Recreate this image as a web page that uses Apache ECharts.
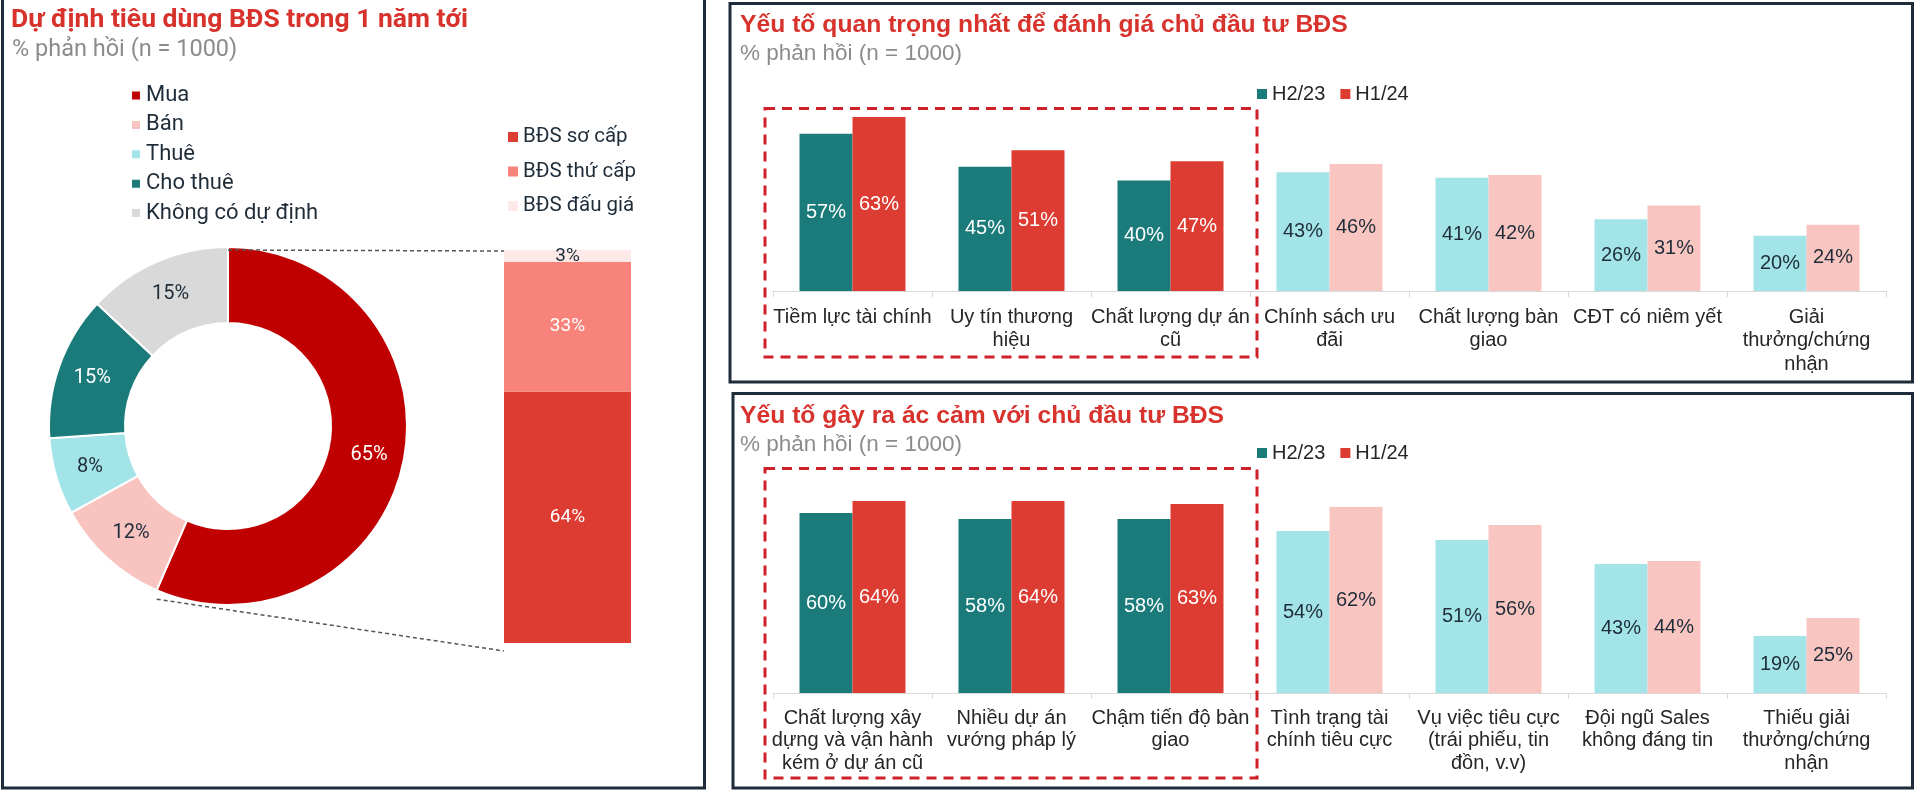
<!DOCTYPE html>
<html><head><meta charset="utf-8">
<script src="https://cdn.jsdelivr.net/npm/echarts@6/dist/echarts.min.js"></script>
<style>html,body{margin:0;padding:0;background:#fff}#c{width:1920px;height:798px}</style>
</head><body><div id="c"></div>
<script>
// ---------- DATA ----------
const pieNames = ['Mua', 'Bán', 'Thuê', 'Cho thuê', 'Không có dự định'];
const pieValues = [65, 12, 8, 15, 15];
const stackNames = ['BĐS sơ cấp', 'BĐS thứ cấp', 'BĐS đấu giá'];
const stackValues = [64, 33, 3];
const seriesNames = ['H2/23', 'H1/24'];
const topCats = ['Tiềm lực tài chính', 'Uy tín thương\nhiệu', 'Chất lượng dự án\ncũ', 'Chính sách ưu\nđãi', 'Chất lượng bàn\ngiao', 'CĐT có niêm yết', 'Giải\nthưởng/chứng\nnhận'];
const topH2 = [57, 45, 40, 43, 41, 26, 20];
const topH1 = [63, 51, 47, 46, 42, 31, 24];
const botCats = ['Chất lượng xây\ndựng và vận hành\nkém ở dự án cũ', 'Nhiều dự án\nvướng pháp lý', 'Chậm tiến độ bàn\ngiao', 'Tình trạng tài\nchính tiêu cực', 'Vụ việc tiêu cực\n(trái phiếu, tin\nđồn, v.v)', 'Đội ngũ Sales\nkhông đáng tin', 'Thiếu giải\nthưởng/chứng\nnhận'];
const botH2 = [60, 58, 58, 54, 51, 43, 19];
const botH1 = [64, 64, 63, 62, 56, 44, 25];
const HIGHLIGHT_N = 3;

// ---------- STYLE ----------
const RED_TITLE = '#D7322C';
const GRAY_SUB = '#8C8C8C';
const DARK_TXT = '#1F2D3A';
const BORDER = '#1D2B3B';
const pieColors = ['#C00000', '#F9C4C0', '#A3E4E8', '#1B7B7B', '#D9D9D9'];
const pieLabelColors = ['#fff', DARK_TXT, DARK_TXT, '#fff', DARK_TXT];
const stackColors = ['#DD3C33', '#F8837A', '#FDE9E8'];
const stackLabelColors = ['#fff', '#fff', DARK_TXT];
const DARK = ['#1B7B7B', '#DD3C33'];
const LIGHT = ['#A3E4E8', '#F9C5C1'];
const LEFT_FONT = 'Roboto, "Noto Sans", sans-serif';
const RIGHT_FONT = '"Liberation Sans", Arial, sans-serif';

const PIE_CENTER = [228, 426];
const PIE_R = [103, 179];
const STACK_GRID = {left: 504, top: 250, width: 127, height: 393};
const TOP_GRID = {left: 773, top: 15, width: 1113, height: 276};
const BOT_GRID = {left: 773, top: 393, width: 1113, height: 300};

const chart = echarts.init(document.getElementById('c'), null, {renderer: 'canvas'});

function titleItem(text, left, top, size, bold, color, font, lh) {
  return {text, left, top, padding: 0,
    textStyle: {fontSize: size, fontWeight: bold ? 'bold' : 'normal', color, fontFamily: font, lineHeight: lh}};
}
function barData(vals, si) {
  return vals.map((v, i) => ({
    value: v,
    itemStyle: {color: i < HIGHLIGHT_N ? DARK[si] : LIGHT[si]},
    label: {color: i < HIGHLIGHT_N ? '#fff' : DARK_TXT}
  }));
}
function catAxis(gridIndex, cats, margin, lh) {
  return {type: 'category', gridIndex, data: cats,
    axisLine: {show: true, lineStyle: {color: '#D9D9D9', width: 1}},
    axisTick: {show: true, alignWithLabel: false, length: 6, lineStyle: {color: '#D9D9D9'}},
    axisLabel: {interval: 0, margin, fontSize: 20, lineHeight: lh, color: '#262626', fontFamily: RIGHT_FONT}};
}
function valAxis(gridIndex) {
  return {type: 'value', gridIndex, min: 0, max: 100, show: false};
}
const barLabel = {show: true, position: 'inside', formatter: '{c}%', fontSize: 20, fontFamily: RIGHT_FONT};

const option = {
  animation: false,
  backgroundColor: '#fff',
  title: [
    titleItem('Dự định tiêu dùng BĐS trong 1 năm tới', 11, 4, 26.5, true, RED_TITLE, LEFT_FONT, 32),
    titleItem('% phản hồi (n = 1000)', 12, 37, 23.5, false, GRAY_SUB, LEFT_FONT, 26),
    titleItem('Yếu tố quan trọng nhất để đánh giá chủ đầu tư BĐS', 740, 10, 24.7, true, RED_TITLE, RIGHT_FONT, 30),
    titleItem('% phản hồi (n = 1000)', 740, 41, 22.5, false, GRAY_SUB, RIGHT_FONT, 26),
    titleItem('Yếu tố gây ra ác cảm với chủ đầu tư BĐS', 740, 401, 24.7, true, RED_TITLE, RIGHT_FONT, 30),
    titleItem('% phản hồi (n = 1000)', 740, 432, 22.5, false, GRAY_SUB, RIGHT_FONT, 26)
  ],
  legend: [
    {data: pieNames, orient: 'vertical', left: 125, top: 79.5, itemWidth: 10, itemHeight: 10, itemGap: 7.4,
      icon: 'rect', selectedMode: false,
      textStyle: {fontSize: 22, lineHeight: 22, color: DARK_TXT, fontFamily: LEFT_FONT}},
    {data: stackNames, orient: 'vertical', left: 503, top: 121.5, itemWidth: 10, itemHeight: 10, itemGap: 13.5,
      icon: 'rect', selectedMode: false,
      textStyle: {fontSize: 20.5, lineHeight: 20.5, color: DARK_TXT, fontFamily: LEFT_FONT}},
    {data: seriesNames, orient: 'horizontal', left: 1252, top: 78, itemWidth: 10, itemHeight: 10, itemGap: 15,
      icon: 'rect', selectedMode: false,
      textStyle: {fontSize: 20, lineHeight: 22, color: '#262626', fontFamily: RIGHT_FONT}},
    {data: seriesNames, orient: 'horizontal', left: 1252, top: 437, itemWidth: 10, itemHeight: 10, itemGap: 15,
      icon: 'rect', selectedMode: false,
      textStyle: {fontSize: 20, lineHeight: 22, color: '#262626', fontFamily: RIGHT_FONT}}
  ],
  grid: [
    Object.assign({outerBoundsMode: 'none', containLabel: false}, STACK_GRID),
    Object.assign({outerBoundsMode: 'none', containLabel: false}, TOP_GRID),
    Object.assign({outerBoundsMode: 'none', containLabel: false}, BOT_GRID)
  ],
  xAxis: [
    {type: 'category', gridIndex: 0, data: [''], show: false},
    catAxis(1, topCats, 14.5, 23.5),
    catAxis(2, botCats, 14, 22.5)
  ],
  yAxis: [valAxis(0), valAxis(1), valAxis(2)],
  series: [
    {type: 'pie', name: 'pie', center: PIE_CENTER, radius: PIE_R, startAngle: 90, clockwise: true,
      avoidLabelOverlap: false,
      itemStyle: {borderColor: '#fff', borderWidth: 2},
      label: {show: true, position: 'inside', formatter: '{c}%', fontSize: 20, fontFamily: LEFT_FONT},
      labelLine: {show: false},
      emphasis: {disabled: true},
      data: pieNames.map((n, i) => ({name: n, value: pieValues[i],
        itemStyle: {color: pieColors[i]}, label: {color: pieLabelColors[i]}}))},
    ...stackNames.map((n, i) => ({
      type: 'bar', name: n, xAxisIndex: 0, yAxisIndex: 0, stack: 'mua', barWidth: '100%',
      itemStyle: {color: stackColors[i]},
      label: {show: true, position: 'inside', formatter: '{c}%', fontSize: 19, fontFamily: LEFT_FONT, color: stackLabelColors[i]},
      data: [stackValues[i]]
    })),
    {type: 'bar', name: seriesNames[0], xAxisIndex: 1, yAxisIndex: 1, barWidth: 53, barGap: '0%',
      itemStyle: {color: DARK[0]}, label: barLabel, data: barData(topH2, 0)},
    {type: 'bar', name: seriesNames[1], xAxisIndex: 1, yAxisIndex: 1, barWidth: 53, barGap: '0%',
      itemStyle: {color: DARK[1]}, label: barLabel, data: barData(topH1, 1)},
    {type: 'bar', name: seriesNames[0], xAxisIndex: 2, yAxisIndex: 2, barWidth: 53, barGap: '0%',
      itemStyle: {color: DARK[0]}, label: barLabel, data: barData(botH2, 0)},
    {type: 'bar', name: seriesNames[1], xAxisIndex: 2, yAxisIndex: 2, barWidth: 53, barGap: '0%',
      itemStyle: {color: DARK[1]}, label: barLabel, data: barData(botH1, 1)}
  ]
};
chart.setOption(option);

// ---------- decorations computed from layout / axes ----------
const g = [];
function panel(x, y, w, h) {
  g.push({type: 'rect', silent: true, z: 100, shape: {x, y, width: w, height: h},
    style: {fill: 'none', stroke: BORDER, lineWidth: 3}});
}
panel(2.5, -10, 702, 798);
panel(730, 3.5, 1182.5, 378.5);
panel(733, 393.5, 1179.5, 394.5);

// connector lines pie -> stacked bar
const sum = pieValues.reduce((a, b) => a + b, 0);
const ang = pieValues[0] / sum * 2 * Math.PI;
const R = PIE_R[1];
const yTop = chart.convertToPixel({yAxisIndex: 0}, 100);
const yBot = chart.convertToPixel({yAxisIndex: 0}, 0);
const dashStyle = {stroke: '#555', lineWidth: 1.5, lineDash: [4, 3]};
g.push({type: 'line', silent: true, z: 50,
  shape: {x1: PIE_CENTER[0], y1: PIE_CENTER[1] - R + 3, x2: STACK_GRID.left, y2: yTop + 1}, style: dashStyle});
g.push({type: 'line', silent: true, z: 50,
  shape: {x1: PIE_CENTER[0] + R * Math.sin(ang), y1: PIE_CENTER[1] - R * Math.cos(ang) + 9,
          x2: STACK_GRID.left, y2: yBot + 8}, style: dashStyle});

// highlighted-group dashed boxes
function box(xAxisIndex, cats, yTopPx, yBotPx) {
  const c0 = chart.convertToPixel({xAxisIndex}, cats[0]);
  const c1 = chart.convertToPixel({xAxisIndex}, cats[1]);
  const bw = c1 - c0;
  const cl = chart.convertToPixel({xAxisIndex}, cats[HIGHLIGHT_N - 1]);
  const x1 = c0 - bw / 2 - 8, x2 = cl + bw / 2 + 7;
  g.push({type: 'rect', silent: true, z: 60, shape: {x: x1, y: yTopPx, width: x2 - x1, height: yBotPx - yTopPx},
    style: {fill: 'none', stroke: '#D0202A', lineWidth: 3, lineDash: [10, 7]}});
}
box(1, topCats, 108.5, 357);
box(2, botCats, 468.5, 778);

chart.setOption({graphic: g});
</script></body></html>
